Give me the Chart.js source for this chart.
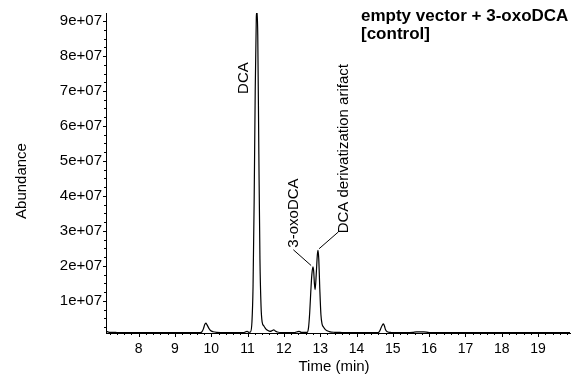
<!DOCTYPE html>
<html>
<head>
<meta charset="utf-8">
<script src="https://cdn.jsdelivr.net/npm/chart.js@4/dist/chart.umd.min.js"></script>
<style>
  html, body { margin: 0; padding: 0; background: #fff; }
  #wrap { width: 580px; height: 378px; }
</style>
</head>
<body>
<div id="wrap"><canvas id="tic" width="580" height="378"></canvas></div>
<script>
// retention time (min)
const timeMin = [
  7.10, 7.20, 7.40, 8.00, 9.00, 9.70, 9.74, 9.78, 9.82, 9.85, 9.88, 9.93, 9.98, 10.05, 10.15, 10.40,
  10.90, 10.96, 10.99, 11.03, 11.08, 11.12, 11.15, 11.18, 11.21, 11.24, 11.26, 11.28, 11.31, 11.34,
  11.37, 11.40, 11.45, 11.50, 11.56, 11.62, 11.68, 11.72, 11.76, 11.82, 11.95, 12.30, 12.38, 12.42,
  12.48, 12.64, 12.68, 12.71, 12.74, 12.77, 12.80, 12.82, 12.84, 12.86, 12.89, 12.92, 12.94, 12.96,
  12.99, 13.02, 13.05, 13.09, 13.15, 13.25, 13.40, 13.60, 14.00, 14.60, 14.64, 14.68, 14.71, 14.74,
  14.77, 14.80, 14.85, 14.95, 15.40, 15.55, 15.65, 15.75, 15.85, 16.00, 17.00, 18.00, 19.00, 19.90
];
const abundance = [
  1.3e6, 1.0e6, 0.95e6, 0.9e6, 0.9e6, 0.9e6, 1.1e6, 1.9e6, 3.2e6, 3.6e6, 3.2e6, 2.2e6, 1.5e6, 1.15e6, 1.0e6, 0.95e6,
  0.95e6, 1.2e6, 1.3e6, 1.0e6, 1.1e6, 4.0e6, 1.4e7, 3.8e7, 7.0e7, 9.1e7, 9.3e7, 8.6e7, 5.2e7, 2.2e7,
  8.5e6, 4.0e6, 2.8e6, 2.0e6, 1.5e6, 1.25e6, 1.5e6, 1.7e6, 1.4e6, 1.1e6, 0.95e6, 0.95e6, 1.2e6, 1.25e6,
  1.0e6, 1.0e6, 2.5e6, 6.5e6, 1.25e7, 1.75e7, 1.97e7, 1.85e7, 1.5e7, 1.32e7, 1.75e7, 2.3e7, 2.44e7, 2.2e7,
  1.3e7, 6.0e6, 3.4e6, 2.5e6, 1.7e6, 1.2e6, 1.0e6, 0.95e6, 0.9e6, 0.9e6, 1.4e6, 2.4e6, 3.0e6, 3.4e6,
  2.8e6, 1.7e6, 1.15e6, 0.95e6, 0.9e6, 1.0e6, 1.15e6, 1.1e6, 1.15e6, 0.95e6, 0.9e6, 0.9e6, 0.9e6, 0.9e6
];
const xTickValues = [8, 9, 10, 11, 12, 13, 14, 15, 16, 17, 18, 19];
const yTickValues = [1e7, 2e7, 3e7, 4e7, 5e7, 6e7, 7e7, 8e7, 9e7];

// peak labels, anchored in data units (time, abundance)
const peakLabels = [
  { text: 'DCA', x: 10.91, y: 7.37e7 },
  { text: '3-oxoDCA', x: 12.27, y: 3.51e7 },
  { text: 'DCA derivatization arifact', x: 13.66, y: 5.35e7 }
];
const leaderLines = [
  { x1: 12.26, y1: 2.46e7, x2: 12.75, y2: 2.01e7 },
  { x1: 13.50, y1: 2.97e7, x2: 12.97, y2: 2.49e7 }
];
const titleLines = ['empty vector + 3-oxoDCA', '[control]'];

const FONT = '"Liberation Sans", Arial, sans-serif';

const decorations = {
  id: 'decorations',
  afterDraw(chart) {
    const ctx = chart.ctx;
    const xs = chart.scales.x;
    const ys = chart.scales.y;
    const area = chart.chartArea;
    ctx.save();
    ctx.strokeStyle = '#000';
    ctx.lineWidth = 1;

    // x ticks: major each minute, minor each 0.2 min, pointing down
    ctx.beginPath();
    for (let i = 36; i <= 99; i++) {
      const v = i / 5;
      const px = Math.round(xs.getPixelForValue(v)) + 0.5;
      if (px < area.left || px > area.right) continue;
      const len = i % 5 === 0 ? 4 : 2;
      ctx.moveTo(px, area.bottom);
      ctx.lineTo(px, area.bottom + len);
    }
    // y ticks: major each 1e7, minor each 2.5e6, pointing left
    for (let i = 1; i <= 36; i++) {
      const v = i * 2.5e6;
      const py = Math.round(ys.getPixelForValue(v)) + 0.5;
      if (py < area.top || py > area.bottom) continue;
      const len = i % 4 === 0 ? 3 : 2;
      ctx.moveTo(area.left, py);
      ctx.lineTo(area.left - len, py);
    }
    ctx.stroke();

    // leader lines
    ctx.beginPath();
    leaderLines.forEach(l => {
      ctx.moveTo(xs.getPixelForValue(l.x1), ys.getPixelForValue(l.y1));
      ctx.lineTo(xs.getPixelForValue(l.x2), ys.getPixelForValue(l.y2));
    });
    ctx.stroke();

    // rotated peak labels
    ctx.fillStyle = '#000';
    ctx.font = '15px ' + FONT;
    ctx.textAlign = 'center';
    ctx.textBaseline = 'middle';
    peakLabels.forEach(p => {
      ctx.save();
      ctx.translate(xs.getPixelForValue(p.x), ys.getPixelForValue(p.y));
      ctx.rotate(-Math.PI / 2);
      ctx.fillText(p.text, 0, 0);
      ctx.restore();
    });

    // axis titles
    ctx.save();
    ctx.translate(22, 181);
    ctx.rotate(-Math.PI / 2);
    ctx.fillText('Abundance', 0, 0);
    ctx.restore();
    ctx.fillText('Time (min)', 334, 367);

    // sample title
    ctx.font = 'bold 17px ' + FONT;
    ctx.textAlign = 'left';
    ctx.textBaseline = 'alphabetic';
    ctx.fillText(titleLines[0], 361, 21);
    ctx.fillText(titleLines[1], 361, 39);
    ctx.restore();
  }
};

new Chart(document.getElementById('tic'), {
  type: 'line',
  data: {
    datasets: [{
      data: timeMin.map((t, i) => ({ x: t, y: abundance[i] })),
      borderColor: '#000',
      borderWidth: 1.2,
      pointRadius: 0,
      fill: false,
      cubicInterpolationMode: 'monotone'
    }]
  },
  options: {
    responsive: false,
    animation: false,
    layout: { padding: { top: 8, right: 10, left: 0, bottom: 0 } },
    plugins: {
      legend: { display: false },
      tooltip: { enabled: false }
    },
    scales: {
      x: {
        type: 'linear',
        min: 7.1,
        max: 19.88,
        afterFit: s => { s.height = 45; },
        afterBuildTicks: s => { s.ticks = xTickValues.map(v => ({ value: v })); },
        grid: { display: true, drawOnChartArea: false, drawTicks: false },
        border: { display: true, color: '#000', width: 1 },
        ticks: {
          color: '#000',
          padding: 8,
          maxRotation: 0,
          autoSkip: false,
          font: { family: FONT, size: 14 },
          callback: v => String(v)
        }
      },
      y: {
        type: 'linear',
        min: 8e5,
        max: 9.23e7,
        afterFit: s => { s.width = 106; },
        afterBuildTicks: s => { s.ticks = yTickValues.map(v => ({ value: v })); },
        grid: { display: true, drawOnChartArea: false, drawTicks: false },
        border: { display: true, color: '#000', width: 1 },
        ticks: {
          color: '#000',
          padding: 4,
          autoSkip: false,
          font: { family: FONT, size: 15 },
          callback: v => (v / 1e7) + 'e+07'
        }
      }
    }
  },
  plugins: [decorations]
});
</script>
</body>
</html>
